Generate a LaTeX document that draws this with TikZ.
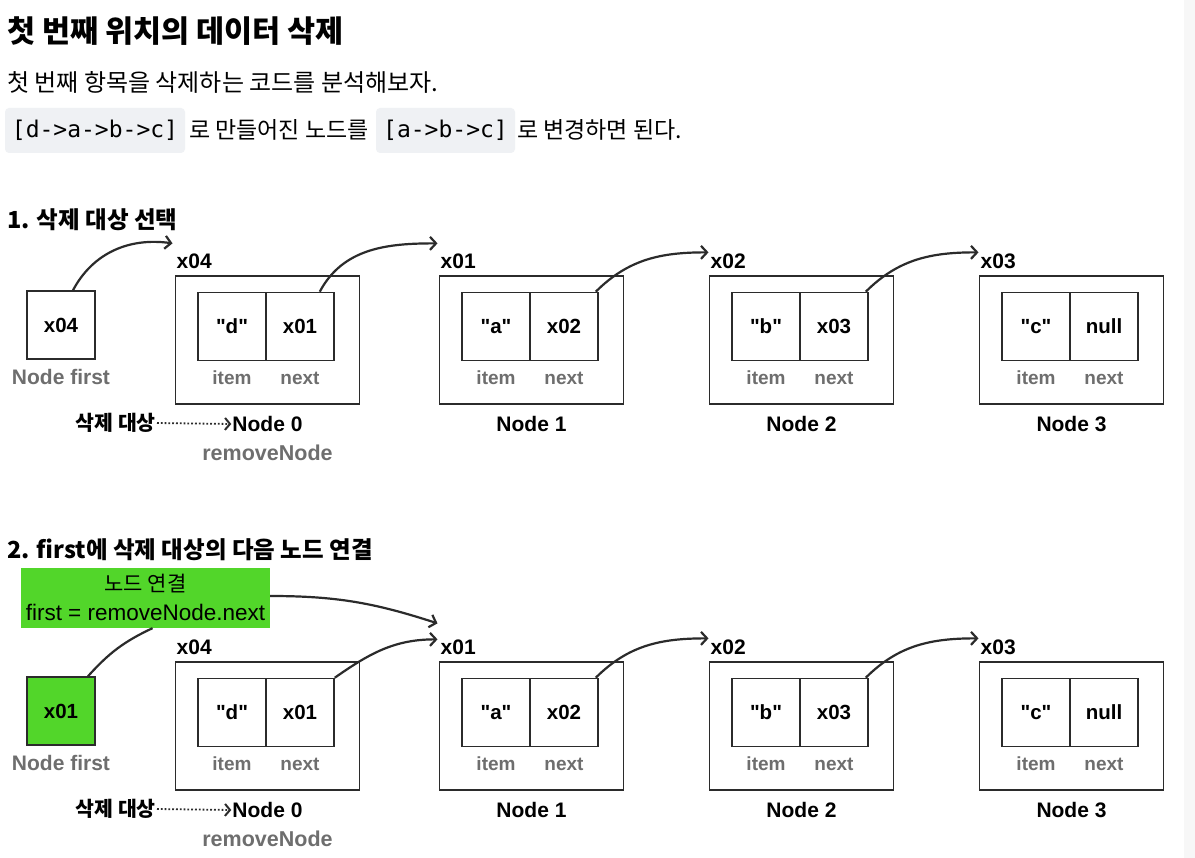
\documentclass[tikz,border=0pt]{standalone}
\usepackage{fontspec}
\setmainfont{Liberation Sans}
\newfontfamily\kr{Noto Sans CJK KR}
\newfontfamily\mono{DejaVu Sans Mono}
\usetikzlibrary{arrows.meta,calc}
\definecolor{lc}{HTML}{2B2B2B}
\definecolor{gtx}{HTML}{6E6E6E}
\definecolor{grn}{RGB}{82,214,42}
\definecolor{chip}{HTML}{EFF1F4}
\newcommand\fsz[1]{\fontsize{#1}{#1}\selectfont}
\newcommand\dq{\textquotedbl}
\tikzset{
  outer/.style={draw=lc, line width=1.5pt, minimum width=184pt, minimum height=128pt, inner sep=0pt},
  cell/.style={draw=lc, line width=1.5pt, minimum width=68pt, minimum height=68pt, inner sep=0pt, font=\bfseries\fsz{20.5}},
  sub/.style={text=gtx, font=\bfseries\fsz{19}, inner sep=0pt},
  addr/.style={anchor=west, font=\bfseries\fsz{21}, inner sep=0pt},
  nlab/.style={font=\bfseries\fsz{21}, inner sep=0pt},
  ptr/.style={line width=2.2pt, lc, -{Straight Barb[length=6pt,width=13pt,line width=2.2pt]}},
  link/.style={line width=2.2pt, lc},
  head/.style={anchor=west, inner sep=0pt, font=\kr\bfseries\fsz{23.5}},
  chipbox/.style={fill=chip, rounded corners=4pt, inner sep=0pt, font=\mono\fsz{23}},
}
\begin{document}
\begin{tikzpicture}[x=1pt,y=-1pt]
\useasboundingbox (0,0) rectangle (1195,858);
\fill[white] (0,0) rectangle (1195,858);
\fill[gray!6] (1184,0) rectangle (1195,858);

% header
\node[anchor=west, inner sep=0pt, font=\kr\bfseries\fsz{30.5}] (title) at (7,31) {첫 번째 위치의 데이터 삭제};
\node[anchor=west, inner sep=0pt, font=\kr\fsz{24}] (line2) at (7,82) {첫 번째 항목을 삭제하는 코드를 분석해보자.};
\node[chipbox, minimum width=180pt, minimum height=45pt] (chip1) at (95,130.5) {[d->a->b->c]};
\node[anchor=west, inner sep=0pt, font=\kr\fsz{23}] (t1) at (189,130) {로 만들어진 노드를};
\node[chipbox, minimum width=139pt, minimum height=45pt] (chip2) at (445.5,130.5) {[a->b->c]};
\node[anchor=west, inner sep=0pt, font=\kr\fsz{23}] (t2) at (517,130) {로 변경하면 된다.};

\node[head] (h1) at (7,220) {1. 삭제 대상 선택};
\node[head] (h2) at (7,550) {2. first에 삭제 대상의 다음 노드 연결};

\foreach \s/\dy/\fv/\fc in {A/0/x04/white, B/386/x01/grn}{
\begin{scope}[yshift=-\dy pt]
  \node[draw=lc, line width=1.5pt, fill=\fc, minimum width=68pt, minimum height=68pt, inner sep=0pt, font=\bfseries\fsz{20.5}] (\s first) at (61,325) {\fv};
  \node[sub, font=\bfseries\fsz{21}] (\s firstlab) at (61,377) {Node first};
  \foreach \i/\cx/\ad/\it/\nx in {0/267.5/x04/d/x01, 1/531.5/x01/a/x02, 2/801.5/x02/b/x03, 3/1071.5/x03/c/null}{
    \node[outer] (\s n\i) at (\cx,340) {};
    \node[cell] (\s item\i) at (\cx-35.5,326.5) {\dq\it\dq};
    \node[cell] (\s next\i) at (\cx+32.5,326.5) {\nx};
    \node[sub] (\s itl\i) at (\cx-35.5,378) {item};
    \node[sub] (\s nxl\i) at (\cx+32.5,378) {next};
    \node[addr] (\s ad\i) at (\cx-91,261) {\ad};
    \node[nlab] (\s nl\i) at (\cx,424) {Node \i};
  }
  \node[sub, font=\bfseries\fsz{21.5}] (\s rm) at (267.5,453) {removeNode};
  \node[anchor=east, inner sep=0pt, font=\kr\bfseries\fsz{20.5}] (\s del) at (156,423) {삭제 대상};
  \draw[line width=1.8pt, lc, dotted, -{Straight Barb[length=5pt,width=12pt,line width=2pt]}] ([xshift=1pt]\s del.east) -- ([xshift=-1pt]\s nl0.west);
  % pointers from node 1 and node 2
  \draw[ptr] ([xshift=-3pt]\s next1.north east) to[out=45,in=180] ([xshift=-2pt,yshift=1pt]\s ad2.north west);
  \draw[ptr] ([xshift=-3pt]\s next2.north east) to[out=45,in=180] ([xshift=-2pt,yshift=1pt]\s ad3.north west);
\end{scope}
}

% section 1 specific
\draw[ptr] ([xshift=12pt]Afirst.north) to[out=62,in=172] ([xshift=-4pt,yshift=10pt]Aad0.north west);
\draw[ptr] ([xshift=-15pt]Anext0.north east) to[out=62,in=180] ([xshift=-3pt,yshift=10pt]Aad1.north west);

% section 2 specific
\node[fill=grn, minimum width=249pt, minimum height=60pt, inner sep=0pt] (glab) at (145.5,598) {};
\node[inner sep=0pt, font=\kr\fsz{21}] (gl1) at (145.5,584) {노드 연결};
\node[inner sep=0pt, font=\fsz{22.5}] (gl2) at (145.5,612) {first = removeNode.next};
\draw[link] ([xshift=27pt]Bfirst.north) to[out=48,in=205] ([xshift=7pt]glab.south);
\draw[ptr] ([yshift=2pt]glab.east) to[out=0,in=162] ([xshift=-3pt,yshift=16pt]Bad1.north west);
\draw[ptr] (Bnext0.north east) to[out=35,in=180] ([xshift=-3pt,yshift=0pt]Bad1.north west);
\end{tikzpicture}
\end{document}
